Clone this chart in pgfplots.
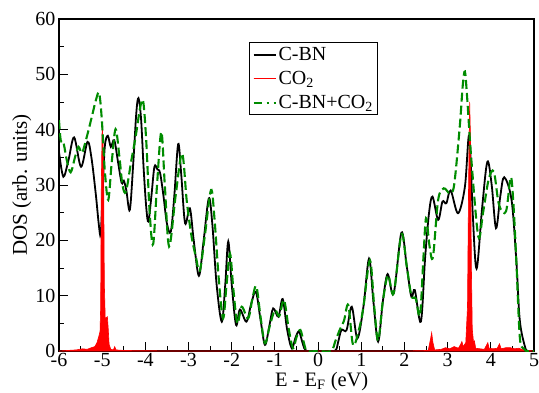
\documentclass[border=0pt]{standalone}
\usepackage{pgfplots}
\pgfplotsset{compat=1.18}
\usepackage{fontspec}
\setmainfont{Liberation Serif}
\definecolor{ggreen}{rgb}{0,0.55,0}
\begin{document}
\begin{tikzpicture}
\useasboundingbox (0,0) rectangle (539pt,392pt);
\begin{axis}[
  at={(59pt,41pt)}, anchor=south west,
  scale only axis, width=475pt, height=332pt,
  xmin=-6, xmax=5, ymin=0, ymax=60,
  xtick={-6,...,5}, ytick={0,10,...,60},
  minor x tick num=1, minor y tick num=1,
  tick align=inside, xtick pos=bottom, ytick pos=left,
  major tick length=9pt, minor tick length=5pt,
  axis line style={line width=1.1pt},
  every tick/.style={black, line width=0.9pt},
  /pgf/number format/assume math mode=true,
  tick label style={font=\fontsize{20}{22}\selectfont},
  xticklabel style={yshift=1pt},
  xlabel={E - E\textsubscript{F} (eV)},
  ylabel={DOS (arb. units)},
  every axis x label/.style={at={(axis description cs:0.553,0)}, yshift=-30.5pt, anchor=center, font=\fontsize{20.5}{22}\selectfont},
  every axis y label/.style={at={(axis description cs:-0.078,0.5)}, rotate=90, anchor=center, font=\fontsize{21}{22}\selectfont},
  legend style={at={(axis description cs:0.4,0.93)}, anchor=north west,
    font=\fontsize{20}{21}\selectfont, draw=black, line width=0.9pt,
    row sep=5pt, inner sep=3pt, cells={anchor=west}},
  legend cell align=left,
]
\addplot[black, line width=1.8pt, smooth, tension=0.55,
  legend image code/.code={\draw[black, line width=1.8pt] (0pt,0pt) -- (22pt,0pt);}] coordinates {
(-6.00,36.0) (-5.90,31.5) (-5.78,34.5) (-5.65,38.6) (-5.49,33.3) (-5.34,37.8)
(-5.25,35.0) (-5.15,28.5) (-5.08,23) (-5.035,21.1) (-4.99,28.5) (-4.94,36.9)
(-4.87,38.9) (-4.80,36.9) (-4.72,38.1) (-4.63,34) (-4.55,30.4) (-4.50,30.8)
(-4.44,29) (-4.36,25.5) (-4.28,34) (-4.21,43) (-4.16,45.7) (-4.10,42)
(-4.04,33) (-3.98,26) (-3.93,23.4) (-3.86,28) (-3.79,33.3) (-3.72,32.8)
(-3.66,32.2) (-3.58,28) (-3.50,23) (-3.41,21.6) (-3.33,28) (-3.24,37.4)
(-3.17,32) (-3.08,23.1) (-2.97,25.8) (-2.88,20) (-2.76,13.6) (-2.65,20)
(-2.53,27.6) (-2.45,23) (-2.35,12) (-2.23,5.3) (-2.15,12) (-2.08,19.8)
(-2.00,12) (-1.90,4.7) (-1.81,7.5) (-1.66,5.3) (-1.55,8.5) (-1.44,10.7)
(-1.33,5.5) (-1.23,1.1) (-1.13,4.5) (-1.04,7.7) (-0.92,6.2) (-0.82,9.4)
(-0.72,4) (-0.61,0.5) (-0.52,2.5) (-0.44,3.5) (-0.35,1.2) (-0.27,0)
(0.00,0) (0.38,0) (0.46,1.5) (0.54,3.8) (0.66,3.8) (0.78,8.0) (0.91,2.3)
(1.05,8) (1.18,16.7) (1.28,9) (1.39,1.7) (1.50,9) (1.61,13.9) (1.75,10.4)
(1.93,21.4) (2.05,15.5) (2.16,9.8) (2.24,11.0) (2.38,5.3) (2.48,17)
(2.57,25) (2.65,27.9) (2.78,23.7) (2.88,27.0) (2.97,26.7) (3.07,29.0)
(3.24,24.9) (3.40,29.7) (3.50,39.0) (3.58,25) (3.67,14.9) (3.80,26)
(3.92,34.2) (4.02,30) (4.12,22.2) (4.22,28) (4.31,31.4) (4.48,27.3)
(4.59,16.4) (4.67,5.6) (4.79,0.8) (4.86,0) (5.00,0)
};
\addlegendentry{C-BN}
\addplot[red, line width=0.6pt, fill=red,
  legend image code/.code={\draw[red, line width=1pt] (0pt,0pt) -- (22pt,0pt);}] coordinates {
(-6.0,0) (-5.8,0.1) (-5.6,0.2) (-5.45,0.4) (-5.35,0.3) (-5.25,0.6) (-5.17,0.8)
(-5.12,1.5) (-5.08,2.6) (-5.05,3.5) (-5.035,8) (-5.02,30) (-5.00,41) (-4.98,38)
(-4.965,30) (-4.95,12) (-4.93,6) (-4.91,6) (-4.88,6.2) (-4.86,4) (-4.84,1.2)
(-4.80,0.3) (-4.74,0.2) (-4.71,0.8) (-4.68,0.2) (-4.5,0.1) (-4.0,0.05) (-3.0,0)
(2.0,0) (2.55,0.1) (2.60,2) (2.63,3.3) (2.66,1.5) (2.70,0.2) (2.85,0.3)
(2.95,0.6) (3.05,0.4) (3.15,0.8) (3.25,0.5) (3.30,1.2) (3.33,1.7) (3.36,0.8)
(3.42,1.5) (3.46,8) (3.485,30) (3.51,45) (3.53,38) (3.55,15) (3.57,4)
(3.60,1.5) (3.62,1.8) (3.65,0.5) (3.75,0.4) (3.85,0.3) (3.93,1.5) (3.96,0.5)
(4.05,0.4) (4.15,0.5) (4.20,1.3) (4.24,0.4) (4.35,0.6) (4.45,0.6) (4.55,0.4)
(4.65,0.5) (4.75,0.2) (4.85,0.1) (5.0,0)
} \closedcycle;
\addlegendentry{CO\textsubscript{2}}
\addplot[ggreen, line width=2.1pt, dash pattern=on 9pt off 4pt, smooth, tension=0.55,
  legend image code/.code={\draw[ggreen, line width=2.1pt, dash pattern=on 8pt off 5pt on 2pt off 5pt] (0pt,0pt) -- (22pt,0pt);}] coordinates {
(-6.00,41.7) (-5.96,38.1) (-5.90,37.8) (-5.82,34.5) (-5.73,32.3) (-5.63,35)
(-5.55,36.9) (-5.47,35.8) (-5.38,38) (-5.25,42) (-5.14,45.5) (-5.07,46.6)
(-5.01,42) (-4.94,32.7) (-4.86,27.3) (-4.78,34) (-4.69,40.1) (-4.60,35)
(-4.53,30) (-4.45,28.8) (-4.33,34.2) (-4.22,39) (-4.12,44) (-4.05,45.1)
(-3.98,38) (-3.90,25) (-3.82,19.3) (-3.73,30) (-3.63,39.6) (-3.55,30)
(-3.45,18.9) (-3.30,28) (-3.15,35.7) (-3.04,27) (-2.93,20.7) (-2.83,17)
(-2.74,14.5) (-2.62,21) (-2.48,29.1) (-2.40,24) (-2.30,13) (-2.20,5.9)
(-2.12,12) (-2.04,17.6) (-1.96,11) (-1.87,5.0) (-1.77,8.0) (-1.62,5.9)
(-1.52,9.5) (-1.43,11.7) (-1.33,6) (-1.23,1.4) (-1.12,4.5) (-1.00,7.4)
(-0.90,6.3) (-0.79,9.2) (-0.68,4) (-0.58,0.5) (-0.50,2.5) (-0.41,3.8)
(-0.32,1.2) (-0.25,0) (0.00,0) (0.30,0) (0.40,1.8) (0.50,3.8) (0.60,5.5)
(0.70,8.3) (0.81,1.1) (0.95,4) (1.05,8) (1.20,16.4) (1.30,8) (1.39,1.9)
(1.50,9) (1.62,13.7) (1.75,10.4) (1.93,21.1) (2.05,15.5) (2.16,10)
(2.26,9.5) (2.36,6.5) (2.44,17) (2.50,24) (2.58,19) (2.66,17)
(2.78,27.3) (2.91,29.4) (3.05,28.5) (3.15,30) (3.28,40.5) (3.35,48)
(3.40,50.5) (3.45,46) (3.55,34.5) (3.71,20.7) (3.82,25) (3.95,31)
(4.07,32.4) (4.19,26.4) (4.35,25.2) (4.46,31.4) (4.52,27) (4.59,16.4)
(4.67,2.6) (4.75,0.5) (4.82,0) (5.00,0)
};
\addlegendentry{C-BN+CO\textsubscript{2}}
\end{axis}
\end{tikzpicture}
\end{document}
